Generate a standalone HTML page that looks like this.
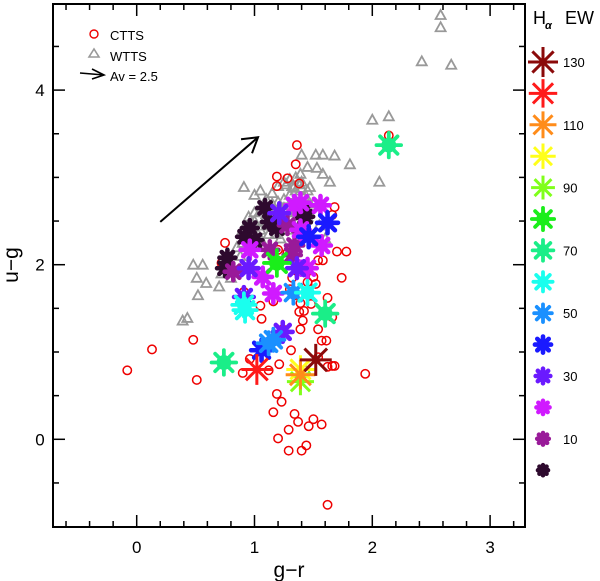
<!DOCTYPE html>
<html><head><meta charset="utf-8"><style>
body{margin:0;background:#fff}
svg{display:block;font-family:"Liberation Sans",sans-serif}
</style></head><body>
<svg id="chart" width="600" height="581" viewBox="0 0 600 581"></svg>
<script>
// ---- data ----
const cttsGR=[-0.08,0.13,0.48,0.51,0.90,0.96,1.12,1.21,1.06,1.05,1.16,1.30,1.34,1.39,1.42,1.41,1.39,1.24,1.31,1.54,1.57,1.54,1.61,1.38,1.62,1.68,1.94,1.66,1.19,1.23,1.16,1.34,1.37,1.50,1.46,1.57,1.20,1.29,1.29,1.40,1.44,1.62,1.36,1.35,1.19,1.28,1.19,1.38,2.14,0.75,0.72,0.91,0.93,1.68,1.66,1.70,1.78,1.54,1.58,1.74,1.50,1.52,1.62,1.66,1.20,1.28,1.45,1.42,1.32,1.48];
const cttsUG=[0.79,1.03,1.14,0.68,0.76,0.92,0.79,0.86,1.38,1.53,1.58,1.72,1.65,1.56,1.47,1.36,1.26,1.26,1.02,1.26,1.13,0.94,1.13,1.46,0.83,0.84,0.75,0.84,0.52,0.43,0.31,0.29,0.20,0.23,0.15,0.17,0.01,0.11,-0.13,-0.13,-0.07,-0.75,3.37,3.15,3.01,2.99,2.90,2.93,3.48,2.25,2.02,1.69,1.52,2.66,2.57,2.15,2.15,2.05,2.05,1.85,1.86,1.78,1.62,1.40,2.17,2.14,1.80,1.92,1.85,1.55];
const wttsGR=[2.58,2.58,2.42,2.67,2.00,2.14,2.06,1.40,1.52,1.58,1.68,1.81,1.45,1.53,1.39,1.58,1.64,1.47,0.91,0.48,0.56,0.51,0.59,0.52,0.39,0.43,0.70,0.72,0.80,0.75,1.00,1.05,1.10,1.15,1.20,1.25,1.30,1.35,1.40,1.45,1.10,1.15,1.20,1.25,1.30,1.35,1.40,1.45,1.50,0.95,1.00,1.05,1.10,1.15,1.20,1.25,1.30,1.35,1.40,0.90,0.95,1.00,1.05,1.10,1.15,1.20,1.25,1.30,1.35,0.85,0.90,0.95,1.00,1.05,1.12,1.18,1.22,1.28,1.33,1.37,1.45,1.47,1.55,1.60,0.82,0.88,1.43,1.32,1.27,1.37,1.42,1.22,1.17,1.08,1.03,1.33,1.38];
const wttsUG=[4.86,4.72,4.33,4.29,3.66,3.70,2.95,3.26,3.26,3.26,3.25,3.15,3.12,3.11,3.04,3.04,2.95,2.89,2.89,2.00,2.00,1.85,1.79,1.65,1.36,1.39,1.75,1.90,1.85,2.05,2.80,2.85,2.75,2.82,2.90,2.95,2.98,3.00,2.95,2.85,2.65,2.70,2.72,2.75,2.80,2.85,2.88,2.75,2.70,2.55,2.60,2.62,2.58,2.55,2.60,2.65,2.68,2.70,2.72,2.40,2.45,2.50,2.40,2.45,2.48,2.50,2.55,2.60,2.62,2.20,2.25,2.30,2.25,2.30,2.35,2.35,2.30,2.40,2.45,2.50,2.55,2.35,2.45,2.30,1.95,2.10,0.80,2.90,2.92,2.80,2.78,2.62,2.52,2.50,2.35,2.88,2.92];
const starGR=[1.52,1.02,1.39,1.39,1.39,0.74,2.14,1.60,1.19,0.91,1.45,0.92,1.33,1.16,1.12,1.06,1.62,1.46,0.91,1.21,1.24,1.36,0.95,1.56,1.34,1.39,1.07,1.16,0.96,1.45,1.57,1.34,1.13,1.32,0.82,1.09,1.13,1.19,0.96,0.92,1.00,0.77,0.75,1.41,1.43,1.39,1.28];
const starUG=[0.91,0.80,0.74,0.80,0.66,0.88,3.37,1.44,2.02,1.54,1.68,1.48,1.68,1.14,1.10,1.02,2.48,2.32,1.63,2.59,1.23,1.96,1.96,2.68,2.68,2.40,1.86,1.67,2.17,1.96,2.22,2.22,2.17,2.11,1.92,2.65,2.49,2.42,2.42,2.32,2.28,2.08,1.96,2.60,2.55,2.71,2.45];
const starEW=[130,120,110,100,90,70,70,70,80,60,60,60,50,50,50,40,40,40,30,30,30,30,30,20,20,20,20,20,20,20,20,10,10,10,10,0,0,0,0,0,0,0,0,0,0,20,10];
const legendEW=[130,120,110,100,90,80,70,60,50,40,30,20,10,0];
const xTicks=[0,1,2,3];
const yTicks=[0,2,4];
// ---- scales ----
const L=53,R=525,T=4,B=527;
const sx=v=>136.7+v*117.8, sy=v=>439.3-v*87.3;
const colorOf=ew=>({130:'#8b0a0a',120:'#ff1a1a',110:'#ff8c1a',100:'#ffff1a',90:'#80ff1a',80:'#1aee1a',70:'#1aee88',60:'#1affee',50:'#1a90ff',40:'#1a1aff',30:'#6a1aff',20:'#d01aff',10:'#991a99',0:'#2e0a2e'})[ew];
const svg=document.getElementById('chart');const NS='http://www.w3.org/2000/svg';
function mk(tag,attrs,parent){const e=document.createElementNS(NS,tag);for(const k in attrs)e.setAttribute(k,attrs[k]);(parent||svg).appendChild(e);return e;}
function star(g,cx,cy,ew,big){const r=big?(8+ew/130*8):(5+ew/130*10);const sw=ew>=90?3:(ew>=50?3.8:4.6);const col=colorOf(ew);
 let d='';for(let i=0;i<4;i++){const a=i*Math.PI/4;d+=`M${cx-r*Math.cos(a)},${cy-r*Math.sin(a)}L${cx+r*Math.cos(a)},${cy+r*Math.sin(a)}`;}
 const p=mk('path',{d:d,stroke:col,'stroke-width':sw,'stroke-linecap':ew>=90?'butt':'round',fill:'none'},g);
 if(ew<90)mk('circle',{cx:cx,cy:cy,r:r*0.6,fill:col},g);return p;}
// ---- frame & ticks ----
const ax=mk('g',{});
for(let v=-0.6;v<=3.21;v+=0.2){const x=sx(Math.round(v*10)/10);const maj=Math.abs(Math.round(v*10)/10%1)<1e-6;const len=maj?12:6;
 mk('line',{x1:x,y1:B,x2:x,y2:B-len,stroke:'#000','stroke-width':1.5},ax);mk('line',{x1:x,y1:T,x2:x,y2:T+len,stroke:'#000','stroke-width':1.5},ax);}
for(let v=-0.5;v<=4.51;v+=0.5){const y=sy(v);const maj=Math.abs(v%2)<1e-6;const len=maj?12:6;
 mk('line',{x1:L,y1:y,x2:L+len,y2:y,stroke:'#000','stroke-width':1.5},ax);mk('line',{x1:R,y1:y,x2:R-len,y2:y,stroke:'#000','stroke-width':1.5},ax);}
mk('rect',{x:L,y:T,width:R-L,height:B-T,fill:'none',stroke:'#000','stroke-width':2},ax);
xTicks.forEach(v=>{const t=mk('text',{x:sx(v),y:553,'font-size':17,'text-anchor':'middle'},ax);t.textContent=v;});
yTicks.forEach(v=>{const t=mk('text',{x:40,y:sy(v)+6,'font-size':17,'text-anchor':'middle'},ax);t.textContent=v;});
const xl=mk('text',{x:289,y:577,'font-size':21,'text-anchor':'middle'});xl.textContent='g\u2212r';
const yl=mk('text',{x:0,y:0,'font-size':21,'text-anchor':'middle',transform:'translate(18,265) rotate(-90)'});yl.textContent='u\u2212g';
// ---- series ----
const gw=mk('g',{});
wttsGR.forEach((v,i)=>{const x=sx(v),y=sy(wttsUG[i]);const p=mk('path',{d:`M${x-5},${y+4}L${x+5},${y+4}L${x},${y-5}Z`,fill:'none',stroke:'#999','stroke-width':1.8},gw);});
const gc=mk('g',{});
cttsGR.forEach((v,i)=>{const c=mk('circle',{cx:sx(v),cy:sy(cttsUG[i]),r:4.2,fill:'none',stroke:'#e00','stroke-width':1.5},gc);});
const gs=mk('g',{});
starEW.map((e,i)=>i).sort((a,b)=>starEW[a]-starEW[b]).forEach(i=>{const p=star(gs,sx(starGR[i]),sy(starUG[i]),starEW[i],true);});
// ---- reddening arrow ----
const ga=mk('g',{});
mk('line',{x1:sx(0.2),y1:sy(2.49),x2:sx(1.03),y2:sy(3.46),stroke:'#000','stroke-width':2},ga);
mk('path',{d:`M${sx(1.03)-17},${sy(3.46)+2}L${sx(1.03)},${sy(3.46)}L${sx(1.03)-6},${sy(3.46)+16}`,fill:'none',stroke:'#000','stroke-width':2},ga);
// ---- legend top-left ----
const lg=mk('g',{});
mk('circle',{cx:94,cy:34,r:4,fill:'none',stroke:'#e00','stroke-width':1.4},lg);
let t=mk('text',{x:110,y:40,'font-size':13},lg);t.textContent='CTTS';
mk('path',{d:'M89,57L99,57L94,49Z',fill:'none',stroke:'#999','stroke-width':1.6},lg);
t=mk('text',{x:110,y:61,'font-size':13},lg);t.textContent='WTTS';
mk('path',{d:'M80,73L104,75M92,69L104,75L92,79',fill:'none',stroke:'#000','stroke-width':1.6},lg);
t=mk('text',{x:110,y:81,'font-size':13},lg);t.textContent='Av = 2.5';
// ---- EW legend ----
const ge=mk('g',{});
t=mk('text',{x:533,y:24,'font-size':18},ge);t.textContent='H';
let s=mk('text',{x:545,y:29,'font-size':11,'font-weight':'bold','font-style':'italic'},ge);s.textContent='α';
s=mk('text',{x:565,y:24,'font-size':18},ge);s.textContent='EW';
legendEW.forEach((e,i)=>{const y=62+i*31.4;const p=star(ge,543,y,e,false);
 if(i%2===0&&e>0){const tx=mk('text',{x:563,y:y+5,'font-size':13},ge);tx.textContent=e;}});
</script>
</body></html>
